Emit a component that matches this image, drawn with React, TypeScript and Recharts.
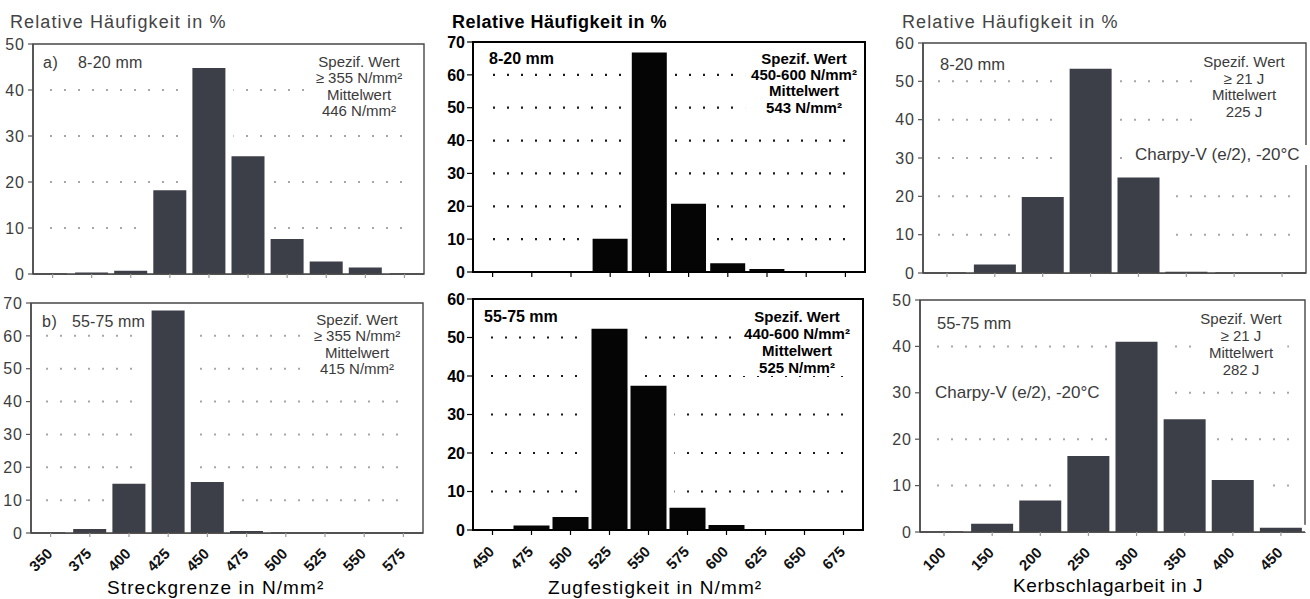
import React from 'react';
import { BarChart, Bar, XAxis, YAxis, CartesianGrid, ReferenceArea } from 'recharts';

// Class centres (tick labels) and relative frequencies in % for each histogram
const streckgrenzeKlassen = ['350', '375', '400', '425', '450', '475', '500', '525', '550', '575'];
const streckgrenze8bis20 = [0, 0.3, 0.7, 18.2, 44.8, 25.6, 7.6, 2.7, 1.4, 0];
const streckgrenze55bis75 = [0, 1.2, 15.0, 67.7, 15.5, 0.6, 0, 0, 0, 0];

const zugfestigkeitKlassen = ['450', '475', '500', '525', '550', '575', '600', '625', '650', '675'];
const zugfestigkeit8bis20 = [0, 0, 0, 10.1, 66.8, 20.8, 2.7, 0.9, 0, 0];
const zugfestigkeit55bis75 = [0, 1.2, 3.4, 52.3, 37.5, 5.8, 1.3, 0, 0, 0];

const kerbschlagKlassen = ['100', '150', '200', '250', '300', '350', '400', '450'];
const kerbschlag8bis20 = [0, 2.2, 19.8, 53.3, 24.9, 0.3, 0, 0];
const kerbschlag55bis75 = [0, 1.8, 6.8, 16.4, 41.0, 24.3, 11.2, 0.9];

const yTicks50 = [0, 10, 20, 30, 40, 50];
const yTicks60 = [0, 10, 20, 30, 40, 50, 60];
const yTicks70 = [0, 10, 20, 30, 40, 50, 60, 70];

const FONT = "'Liberation Sans', Arial, Helvetica, sans-serif";

type Theme = {
  bar: string;
  frame: string;
  frameWidth: number;
  grid: string;
  gridWidth: number;
  tickText: string;
  tickWeight: number;
  tickSpacing: number;
  yTickLine: string;
  xTickLine: string;
  yTickSize: number;
  yTickMargin: number;
  xTickSize: number;
  text: string;
};

const soft: Theme = {
  bar: '#3c3e48',
  frame: '#474747',
  frameWidth: 1.4,
  grid: '#a6a6a6',
  gridWidth: 2,
  tickText: '#3d3d3d',
  tickWeight: 400,
  tickSpacing: 1,
  yTickLine: '#555555',
  xTickLine: '#9a9a9a',
  yTickSize: 5,
  yTickMargin: 3,
  xTickSize: 4,
  text: '#3b3b3b',
};

const dark: Theme = {
  bar: '#050505',
  frame: '#000000',
  frameWidth: 2,
  grid: '#1a1a1a',
  gridWidth: 2.2,
  tickText: '#000000',
  tickWeight: 700,
  tickSpacing: 0,
  yTickLine: '#000000',
  xTickLine: '#000000',
  yTickSize: 6,
  yTickMargin: 2,
  xTickSize: 5,
  text: '#000000',
};

// White halo drawn behind each bar so the dotted grid stops short of it
const MASK_PAD = 8;
function MaskShape(props: any) {
  const { x, y, width, height } = props;
  if (!(height > 0)) return <g />;
  return (
    <rect x={x - MASK_PAD} y={y - 3} width={width + 2 * MASK_PAD} height={height + 3} fill="#ffffff" />
  );
}

function SlantedTick(props: any) {
  const { x, y, payload } = props;
  const ax = x - 1;
  return (
    <text
      x={ax}
      y={y}
      dy="0.35em"
      transform={`rotate(-45 ${ax} ${y})`}
      textAnchor="end"
      fontSize={15}
      fontWeight={700}
      fill="#111111"
      fontFamily={FONT}
    >
      {payload.value}
    </text>
  );
}

type HistProps = {
  cats: string[];
  values: number[];
  yTicks: number[];
  left: number;
  top: number;
  width: number;
  height: number;
  margin: { top: number; right: number; bottom: number; left: number };
  yWidth: number;
  xHeight: number;
  gridX: number;
  gridW: number;
  gap: number;
  labels: boolean;
  theme: Theme;
};

function Histogram(p: HistProps) {
  const data = p.cats.map((c, i) => ({ klasse: c, anteil: p.values[i] }));
  const yMax = p.yTicks[p.yTicks.length - 1];
  const t = p.theme;
  const frameLine = { stroke: t.frame, strokeWidth: t.frameWidth };
  return (
    <div style={{ position: 'absolute', left: p.left, top: p.top, width: p.width, height: p.height }}>
      <BarChart width={p.width} height={p.height} data={data} margin={p.margin} barCategoryGap={p.gap} barGap={0}>
        <CartesianGrid
          vertical={false}
          horizontalValues={p.yTicks.slice(1, -1)}
          x={p.gridX}
          width={p.gridW}
          stroke={t.grid}
          strokeWidth={t.gridWidth}
          strokeDasharray="2 12"
        />
        <XAxis
          dataKey="klasse"
          height={p.xHeight}
          axisLine={frameLine}
          tickLine={{ stroke: t.xTickLine, strokeWidth: 1.2 }}
          tickSize={t.xTickSize}
          tickMargin={14}
          interval={0}
          tick={(tp: any) => (p.labels ? <SlantedTick {...tp} /> : <g />)}
        />
        <XAxis xAxisId="halo" dataKey="klasse" hide />
        <YAxis
          domain={[0, yMax]}
          ticks={p.yTicks}
          interval={0}
          width={p.yWidth}
          axisLine={frameLine}
          tickLine={{ stroke: t.yTickLine, strokeWidth: 1.2 }}
          tickSize={t.yTickSize}
          tickMargin={t.yTickMargin}
          tick={{ fontSize: 16, fill: t.tickText, fontWeight: t.tickWeight, fontFamily: FONT, letterSpacing: t.tickSpacing }}
        />
        <Bar xAxisId="halo" dataKey="anteil" shape={MaskShape} isAnimationActive={false} />
        <Bar dataKey="anteil" fill={t.bar} isAnimationActive={false} />
        <ReferenceArea y1={0} y2={yMax} fill="none" stroke={t.frame} strokeWidth={t.frameWidth} ifOverflow="visible" />
      </BarChart>
    </div>
  );
}

type TxtProps = {
  x: number;
  y: number;
  lines: string[];
  size: number;
  lh: number;
  color: string;
  weight?: number;
  ls?: number;
  center?: boolean;
  pad?: number;
};

function Txt({ x, y, lines, size, lh, color, weight = 400, ls = 0, center = false, pad = 0 }: TxtProps) {
  return (
    <div
      style={{
        position: 'absolute',
        left: center ? x : x - pad,
        top: y,
        transform: center ? 'translateX(-50%)' : undefined,
        fontSize: size,
        lineHeight: `${lh}px`,
        fontWeight: weight,
        color,
        letterSpacing: ls,
        whiteSpace: 'pre',
        textAlign: center ? 'center' : 'left',
        background: pad ? '#ffffff' : 'transparent',
        padding: pad ? `0 ${pad}px` : 0,
      }}
    >
      {lines.map((l, i) => (
        <div key={i}>{l}</div>
      ))}
    </div>
  );
}

export default function App() {
  return (
    <div
      style={{
        position: 'absolute',
        left: 0,
        top: 0,
        width: 1310,
        height: 599,
        background: '#ffffff',
        overflow: 'hidden',
        fontFamily: FONT,
      }}
    >
      {/* Streckgrenze */}
      <Histogram
        cats={streckgrenzeKlassen}
        values={streckgrenze8bis20}
        yTicks={yTicks50}
        left={0}
        top={30}
        width={440}
        height={260}
        margin={{ top: 14, right: 16, bottom: 0, left: 0 }}
        yWidth={33}
        xHeight={16}
        gridX={50}
        gridW={360}
        gap={3}
        labels={false}
        theme={soft}
      />
      <Histogram
        cats={streckgrenzeKlassen}
        values={streckgrenze55bis75}
        yTicks={yTicks70}
        left={0}
        top={290}
        width={440}
        height={309}
        margin={{ top: 13, right: 17, bottom: 0, left: 0 }}
        yWidth={31}
        xHeight={66}
        gridX={46}
        gridW={364}
        gap={3}
        labels={true}
        theme={soft}
      />

      {/* Zugfestigkeit */}
      <Histogram
        cats={zugfestigkeitKlassen}
        values={zugfestigkeit8bis20}
        yTicks={yTicks70}
        left={430}
        top={28}
        width={440}
        height={262}
        margin={{ top: 14, right: 5, bottom: 0, left: 0 }}
        yWidth={43}
        xHeight={18}
        gridX={63}
        gridW={358}
        gap={2}
        labels={false}
        theme={dark}
      />
      <Histogram
        cats={zugfestigkeitKlassen}
        values={zugfestigkeit55bis75}
        yTicks={yTicks60}
        left={430}
        top={290}
        width={440}
        height={309}
        margin={{ top: 9, right: 7, bottom: 0, left: 0 }}
        yWidth={43}
        xHeight={69}
        gridX={61}
        gridW={358}
        gap={1.5}
        labels={true}
        theme={dark}
      />

      {/* Kerbschlagarbeit */}
      <Histogram
        cats={kerbschlagKlassen}
        values={kerbschlag8bis20}
        yTicks={yTicks60}
        left={870}
        top={28}
        width={440}
        height={262}
        margin={{ top: 15, right: 4, bottom: 0, left: 0 }}
        yWidth={53}
        xHeight={17}
        gridX={68}
        gridW={355}
        gap={3}
        labels={false}
        theme={soft}
      />
      <Histogram
        cats={kerbschlagKlassen}
        values={kerbschlag55bis75}
        yTicks={yTicks50}
        left={870}
        top={290}
        width={440}
        height={309}
        margin={{ top: 10, right: 5, bottom: 0, left: 0 }}
        yWidth={50}
        xHeight={67}
        gridX={67}
        gridW={356}
        gap={3}
        labels={true}
        theme={soft}
      />

      {/* Axis titles */}
      <Txt x={10} y={11.5} lines={['Relative Häufigkeit in %']} size={18} lh={20} color="#444444" ls={1.1} />
      <Txt x={452} y={12} lines={['Relative Häufigkeit in %']} size={18} lh={20} color="#000000" weight={700} ls={0.5} />
      <Txt x={902} y={11.7} lines={['Relative Häufigkeit in %']} size={18} lh={20} color="#444444" ls={1.1} />

      <Txt x={107} y={577} lines={['Streckgrenze in N/mm²']} size={19} lh={22} color="#000000" ls={1.1} />
      <Txt x={548} y={576.5} lines={['Zugfestigkeit in N/mm²']} size={19} lh={22} color="#000000" ls={1.1} />
      <Txt x={1013} y={575} lines={['Kerbschlagarbeit in J']} size={19} lh={22} color="#000000" ls={0.6} />

      {/* Panel captions */}
      <Txt x={43} y={52.5} lines={['a)']} size={16} lh={20} color={soft.text} ls={0.5} />
      <Txt x={78} y={52.5} lines={['8-20 mm']} size={16} lh={20} color={soft.text} ls={0.2} />
      <Txt x={42} y={311.7} lines={['b)']} size={16} lh={20} color={soft.text} ls={0.5} />
      <Txt x={72} y={311.7} lines={['55-75 mm']} size={16} lh={20} color={soft.text} ls={0.1} />
      <Txt x={489} y={49} lines={['8-20 mm']} size={16} lh={20} color="#000000" weight={700} />
      <Txt x={484} y={307} lines={['55-75 mm']} size={16} lh={20} color="#000000" weight={700} />
      <Txt x={940} y={53.5} lines={['8-20 mm']} size={16.5} lh={20} color={soft.text} />
      <Txt x={937} y={312.5} lines={['55-75 mm']} size={16.5} lh={20} color={soft.text} />

      {/* Specification boxes */}
      <Txt x={359} y={53.7} lines={['Spezif. Wert', '≥ 355 N/mm²', 'Mittelwert', '446 N/mm²']} size={15} lh={16.5} color={soft.text} center pad={6} />
      <Txt x={357} y={311.7} lines={['Spezif. Wert', '≥ 355 N/mm²', 'Mittelwert', '415 N/mm²']} size={15} lh={16.5} color={soft.text} center pad={6} />
      <Txt x={804} y={50.9} lines={['Spezif. Wert', '450-600 N/mm²', 'Mittelwert', '543 N/mm²']} size={15} lh={16.2} color="#000000" weight={700} center pad={6} />
      <Txt x={797} y={307.5} lines={['Spezif. Wert', '440-600 N/mm²', 'Mittelwert', '525 N/mm²']} size={15} lh={17} color="#000000" weight={700} center pad={6} />
      <Txt x={1244} y={54} lines={['Spezif. Wert', '≥ 21 J', 'Mittelwert', '225 J']} size={15} lh={16.7} color={soft.text} center pad={6} />
      <Txt x={1241} y={309.5} lines={['Spezif. Wert', '≥ 21 J', 'Mittelwert', '282 J']} size={15} lh={17} color={soft.text} center pad={6} />

      {/* Test condition notes */}
      <Txt x={1135} y={145} lines={['Charpy-V (e/2), -20°C']} size={17} lh={20} color={soft.text} pad={7} />
      <Txt x={935} y={382.5} lines={['Charpy-V (e/2), -20°C']} size={17} lh={20} color={soft.text} pad={9} />
    </div>
  );
}
